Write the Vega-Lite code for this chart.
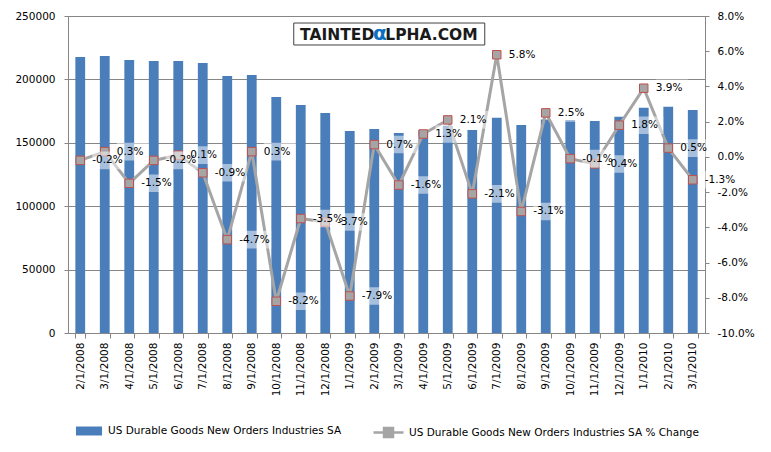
{
  "$schema": "https://vega.github.io/schema/vega-lite/v6.json",
  "width": 637,
  "height": 317,
  "autosize": {"type": "none"},
  "padding": {"left": 68, "top": 16, "right": 66, "bottom": 119},
  "background": "white",
  "config": {
    "locale": {"number": {"decimal": ".", "thousands": ",", "grouping": [3], "currency": ["$", ""], "minus": "-"}},
    "view": {"stroke": "#868686", "strokeWidth": 1},
    "font": "DejaVu Sans",
    "axis": {"labelFont": "DejaVu Sans", "labelFontSize": 10.5, "labelColor": "#000000", "domainColor": "#868686", "tickColor": "#868686", "gridColor": "#868686", "title": null, "labelOverlap": false},
    "legend": {"labelFont": "DejaVu Sans", "labelFontSize": 10.5, "labelColor": "#000000", "labelLimit": 400, "offset": 20, "layout": {"bottom": {"anchor": "middle", "direction": "horizontal", "margin": 30}}}
  },
  "data": {"values": [
    {"date": "2/1/2008", "orders": 217700, "pct": -0.002},
    {"date": "3/1/2008", "orders": 218500, "pct": 0.003},
    {"date": "4/1/2008", "orders": 215300, "pct": -0.015},
    {"date": "5/1/2008", "orders": 214500, "pct": -0.002},
    {"date": "6/1/2008", "orders": 214500, "pct": 0.001},
    {"date": "7/1/2008", "orders": 212900, "pct": -0.009},
    {"date": "8/1/2008", "orders": 202700, "pct": -0.047},
    {"date": "9/1/2008", "orders": 203500, "pct": 0.003},
    {"date": "10/1/2008", "orders": 186100, "pct": -0.082},
    {"date": "11/1/2008", "orders": 179800, "pct": -0.035},
    {"date": "12/1/2008", "orders": 173500, "pct": -0.037},
    {"date": "1/1/2009", "orders": 159300, "pct": -0.079},
    {"date": "2/1/2009", "orders": 160900, "pct": 0.007},
    {"date": "3/1/2009", "orders": 157800, "pct": -0.016},
    {"date": "4/1/2009", "orders": 160000, "pct": 0.013},
    {"date": "5/1/2009", "orders": 163500, "pct": 0.021},
    {"date": "6/1/2009", "orders": 160100, "pct": -0.021},
    {"date": "7/1/2009", "orders": 169800, "pct": 0.058},
    {"date": "8/1/2009", "orders": 164000, "pct": -0.031},
    {"date": "9/1/2009", "orders": 168400, "pct": 0.025},
    {"date": "10/1/2009", "orders": 168000, "pct": -0.001},
    {"date": "11/1/2009", "orders": 167200, "pct": -0.004},
    {"date": "12/1/2009", "orders": 170600, "pct": 0.018},
    {"date": "1/1/2010", "orders": 177700, "pct": 0.039},
    {"date": "2/1/2010", "orders": 178500, "pct": 0.005},
    {"date": "3/1/2010", "orders": 175900, "pct": -0.013}
  ]},
  "encoding": {
    "x": {
      "field": "date", "type": "nominal", "sort": null,
      "scale": {"domain": ["2/1/2008","3/1/2008","4/1/2008","5/1/2008","6/1/2008","7/1/2008","8/1/2008","9/1/2008","10/1/2008","11/1/2008","12/1/2008","1/1/2009","2/1/2009","3/1/2009","4/1/2009","5/1/2009","6/1/2009","7/1/2009","8/1/2009","9/1/2009","10/1/2009","11/1/2009","12/1/2009","1/1/2010","2/1/2010","3/1/2010"], "paddingInner": 0.6, "paddingOuter": 0.3},
      "axis": {"labelAngle": 270, "tickBand": "extent", "tickSize": 5, "labelPadding": 4, "grid": false}
    }
  },
  "layer": [
    {
      "layer": [
        {
          "mark": {"type": "bar", "color": "#4a7ebb"},
          "encoding": {
            "y": {"field": "orders", "type": "quantitative", "scale": {"domain": [0, 250000], "nice": false},
                  "axis": {"orient": "left", "values": [0, 50000, 100000, 150000, 200000, 250000], "format": "d", "grid": true, "tickSize": 4, "labelPadding": 9, "labelOverlap": false}},
            "color": {"datum": "US Durable Goods New Orders Industries SA", "scale": {"range": ["#4a7ebb"]},
                      "legend": {"orient": "bottom", "title": null, "symbolType": "M-0.87,-0.3H0.87V0.3H-0.87Z", "symbolSize": 900, "symbolStrokeWidth": 0}}
          }
        },
        {
          "data": {"values": [{}]},
          "mark": {"type": "point", "shape": "M-1,-0.115H1V0.115H-1Z", "size": 36481, "filled": true, "fill": "white", "stroke": "#404040", "strokeWidth": 1, "opacity": 1, "xOffset": 15},
          "encoding": {"x": {"datum": "2/1/2009"}, "y": {"datum": 235800, "type": "quantitative"}}
        },
        {
          "data": {"values": [{}]},
          "mark": {"type": "text", "text": "TAINTED", "align": "right", "baseline": "middle", "font": "DejaVu Sans", "fontWeight": "bold", "fontSize": 15.5, "color": "#1a1a1a", "xOffset": 0, "yOffset": 1},
          "encoding": {"x": {"datum": "2/1/2009"}, "y": {"datum": 235800, "type": "quantitative"}}
        },
        {
          "data": {"values": [{}]},
          "mark": {"type": "text", "text": "α", "align": "center", "baseline": "middle", "font": "DejaVu Sans", "fontWeight": "bold", "fontSize": 20, "color": "#0a6fc2", "xOffset": 5.5, "yOffset": 0},
          "encoding": {"x": {"datum": "2/1/2009"}, "y": {"datum": 235800, "type": "quantitative"}}
        },
        {
          "data": {"values": [{}]},
          "mark": {"type": "text", "text": "LPHA.COM", "align": "left", "baseline": "middle", "font": "DejaVu Sans", "fontWeight": "bold", "fontSize": 15.5, "color": "#1a1a1a", "xOffset": 11, "yOffset": 1},
          "encoding": {"x": {"datum": "2/1/2009"}, "y": {"datum": 235800, "type": "quantitative"}}
        }
      ]
    },
    {
      "encoding": {
        "y": {"field": "pct", "type": "quantitative", "scale": {"domain": [-0.1, 0.08], "nice": false},
              "axis": {"orient": "right", "values": [-0.1, -0.08, -0.06, -0.04, -0.02, 0, 0.02, 0.04, 0.06, 0.08], "format": ".1%", "grid": false, "tickSize": 4, "labelPadding": 8, "labelOverlap": false, "labelFlush": false}}
      },
      "layer": [
        {
          "mark": {"type": "line", "color": "#a5a5a5", "strokeWidth": 3},
          "encoding": {
            "stroke": {"datum": "US Durable Goods New Orders Industries SA % Change", "scale": {"range": ["#a5a5a5"]},
                       "legend": {"orient": "bottom", "title": null, "symbolType": "M-1,0H-0.3M0.3,0H1M-0.3,-0.3H0.3V0.3H-0.3Z", "symbolSize": 900, "symbolStrokeWidth": 2.5, "symbolFillColor": "#a5a5a5"}}
          }
        },
        {
          "mark": {"type": "point", "shape": "square", "size": 72, "filled": true, "fill": "#a5a5a5", "stroke": "#c0504d", "strokeWidth": 1, "opacity": 1}
        },
        {
          "mark": {"type": "point", "shape": "M-1,-0.55H1V0.55H-1Z", "size": 1024, "filled": true, "fill": "white", "opacity": 0.5, "strokeWidth": 0, "xOffset": 28}
        },
        {
          "mark": {"type": "text", "align": "left", "baseline": "middle", "dx": 12, "font": "DejaVu Sans", "fontSize": 10.5, "color": "#000000"},
          "encoding": {"text": {"field": "pct", "type": "quantitative", "format": ".1%"}}
        }
      ]
    }
  ],
  "resolve": {"scale": {"y": "independent"}}
}
